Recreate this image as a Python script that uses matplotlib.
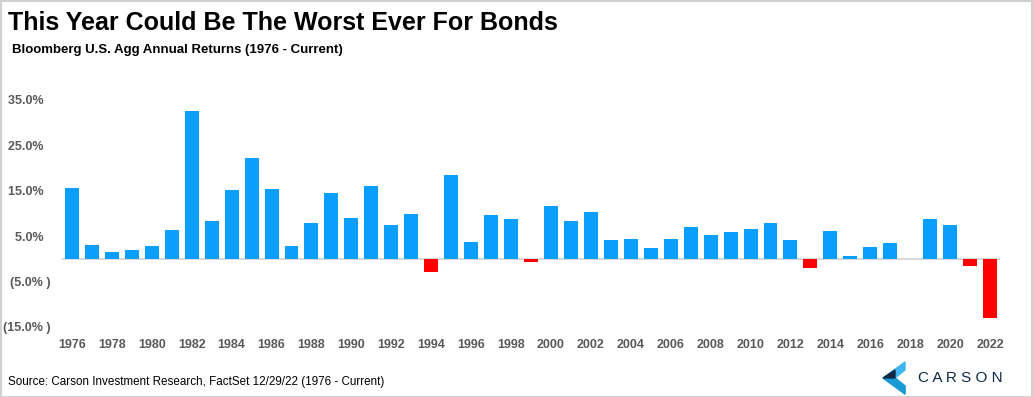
import matplotlib
matplotlib.use('Agg')
import matplotlib.pyplot as plt
from matplotlib.patches import Polygon, Rectangle
import numpy as np

plt.rcParams['font.family'] = ['Liberation Sans', 'DejaVu Sans']

years = list(range(1976, 2023))
returns = [15.6, 3.0, 1.4, 1.9, 2.7, 6.3, 32.6, 8.4, 15.1, 22.1,
           15.3, 2.8, 7.9, 14.5, 9.0, 16.0, 7.4, 9.8, -2.9, 18.5,
           3.6, 9.7, 8.7, -0.8, 11.6, 8.4, 10.3, 4.1, 4.3, 2.4,
           4.3, 7.0, 5.2, 5.9, 6.5, 7.8, 4.2, -2.0, 6.0, 0.5,
           2.6, 3.5, 0.0, 8.7, 7.5, -1.5, -13.0]
y_ticks = [35, 25, 15, 5, -5, -15]
y_tick_labels = ['35.0%  ', '25.0%  ', '15.0%  ', '5.0%  ', '(5.0% )', '(15.0% )']
x_ticks = list(range(1976, 2023, 2))

W, H = 1033, 397
fig = plt.figure(figsize=(W / 100, H / 100), dpi=100)

ax = fig.add_axes([62 / W, (H - 336) / H, 938 / W, 250 / H])
colors = ['#0A9EFF' if r >= 0 else '#FF0000' for r in returns]
ax.bar(years, returns, width=0.7, color=colors, zorder=2)
ax.axhline(0, color='#D9D9D9', lw=1.5, zorder=1)
ax.set_xlim(1975.5, 2022.5)
ax.set_ylim(-17, 38)

ax.set_yticks(y_ticks)
ax.set_yticklabels(y_tick_labels)
ax.set_xticks(x_ticks)
ax.set_xticklabels([str(y) for y in x_ticks])
ax.tick_params(length=0, labelsize=9, labelcolor='#595959')
ax.tick_params(axis='y', pad=8.5)
ax.tick_params(axis='x', pad=2)
for lbl in ax.get_xticklabels() + ax.get_yticklabels():
    lbl.set_fontweight('bold')
for s in ax.spines.values():
    s.set_visible(False)

# header and source
fig.text(8 / W, 1 - 23 / H, 'This Year Could Be The Worst Ever For Bonds',
         fontsize=18, fontweight='bold', va='center', ha='left')
fig.text(12 / W, 1 - 50 / H, 'Bloomberg U.S. Agg Annual Returns (1976 - Current)',
         fontsize=9.5, fontweight='bold', va='center', ha='left')
fig.text(8 / W, 1 - 382 / H, 'Source: Carson Investment Research, FactSet 12/29/22 (1976 - Current)',
         fontsize=8.4, va='center', ha='left')

# logo
def px(x, y):
    return (x / W, 1 - y / H)

fig.patches.append(Polygon([px(905, 362), px(883, 378), px(905, 394), px(905, 386), px(895, 378), px(905, 370)],
                           closed=True, transform=fig.transFigure, color='#3FB6F0'))
fig.patches.append(Polygon([px(883, 378), px(895, 378), px(905, 386), px(905, 394)],
                           closed=True, transform=fig.transFigure, color='#1B9BD6'))
fig.patches.append(Polygon([px(883, 378), px(895, 370), px(895, 378)],
                           closed=True, transform=fig.transFigure, color='#0E2A47'))
fig.text(918 / W, 1 - 378 / H, 'C A R S O N', fontsize=11, color='#0E2A47',
         va='center', ha='left')

# border
fig.patches.append(Rectangle((0.5 / W, 0.5 / H), 1 - 1.5 / W, 1 - 1.5 / H, transform=fig.transFigure,
                             fill=False, ec='#D0D0D0', lw=1.5))

fig.savefig('out.png', dpi=100)
